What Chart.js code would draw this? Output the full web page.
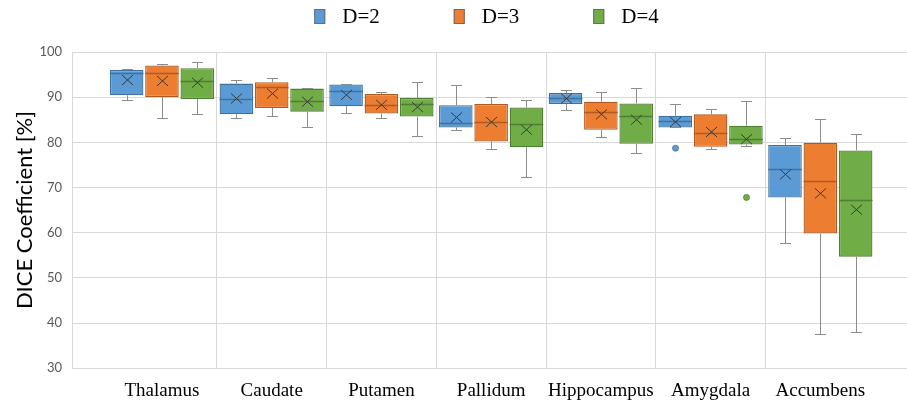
<!DOCTYPE html>
<html><head><meta charset="utf-8">
<script src="https://cdn.jsdelivr.net/npm/chart.js@4"></script>
<style>html,body{margin:0;padding:0;background:#fff}#wrap{width:907px;height:403px;position:relative}</style>
</head><body><div id="wrap"><canvas id="c" width="907" height="403"></canvas></div>
<script>
const categories = ['Thalamus', 'Caudate', 'Putamen', 'Pallidum', 'Hippocampus', 'Amygdala', 'Accumbens'];
const seriesNames = ['D=2', 'D=3', 'D=4'];
const yTicks = [30, 40, 50, 60, 70, 80, 90, 100];

// D=2
const d2Min    = [89.3, 85.4, 86.5, 82.7, 87.1, 83.3, 57.8];
const d2Q1     = [90.4, 86.2, 88.0, 83.3, 88.5, 83.3, 67.8];
const d2Median = [95.3, 89.5, 91.3, 84.2, 89.9, 84.8, 74.0];
const d2Q3     = [96.0, 93.0, 92.8, 88.2, 90.9, 85.9, 79.4];
const d2Max    = [96.2, 93.8, 92.9, 92.6, 91.6, 88.4, 80.9];
const d2Mean   = [93.8, 89.7, 90.5, 85.5, 89.7, 84.5, 72.9];
const d2Outliers = [[], [], [], [], [], [78.7], []];

// D=3
const d3Min    = [85.4, 85.9, 85.4, 78.5, 81.1, 78.6, 37.6];
const d3Q1     = [90.0, 87.6, 86.4, 80.2, 82.8, 79.0, 59.8];
const d3Median = [95.3, 92.2, 88.3, 84.5, 86.8, 82.1, 71.5];
const d3Q3     = [97.0, 93.3, 90.7, 88.5, 89.0, 86.2, 79.9];
const d3Max    = [97.4, 94.2, 91.1, 90.0, 91.1, 87.4, 85.1];
const d3Mean   = [93.6, 90.8, 88.3, 84.5, 86.2, 82.3, 68.7];
const d3Outliers = [[], [], [], [], [], [], []];

// D=4
const d4Min    = [86.2, 83.5, 81.4, 72.3, 77.7, 79.2, 38.0];
const d4Q1     = [89.6, 86.8, 85.7, 78.9, 79.7, 79.5, 54.7];
const d4Median = [93.6, 89.1, 88.4, 84.0, 85.9, 80.8, 67.3];
const d4Q3     = [96.4, 91.9, 89.8, 87.7, 88.6, 83.7, 78.2];
const d4Max    = [97.8, 92.1, 93.3, 89.3, 92.1, 89.2, 81.8];
const d4Mean   = [93.2, 89.0, 87.8, 82.8, 85.0, 80.7, 65.1];
const d4Outliers = [[], [], [], [], [], [67.8], []];

const fills   = ['#5B9BD5', '#ED7D31', '#70AD47'];
const borders = ['#41719C', '#AE5A21', '#507E32'];

const stats = [
  {min: d2Min, q1: d2Q1, med: d2Median, q3: d2Q3, max: d2Max, mean: d2Mean, out: d2Outliers},
  {min: d3Min, q1: d3Q1, med: d3Median, q3: d3Q3, max: d3Max, mean: d3Mean, out: d3Outliers},
  {min: d4Min, q1: d4Q1, med: d4Median, q3: d4Q3, max: d4Max, mean: d4Mean, out: d4Outliers}
];

const datasets = stats.map((s, k) => ({
  label: seriesNames[k],
  data: categories.map((c, i) => ({x: i, y: [s.q1[i], s.q3[i]]})),
  backgroundColor: fills[k],
  borderColor: borders[k],
  borderWidth: 1.3,
  borderSkipped: false,
  categoryPercentage: 0.966,
  barPercentage: 0.95,
  stats: s
}));

const boxExtras = {
  id: 'boxExtras',
  afterDatasetsDraw(chart) {
    const ctx = chart.ctx;
    const y = chart.scales.y;
    chart.data.datasets.forEach((ds, k) => {
      const meta = chart.getDatasetMeta(k);
      const s = ds.stats;
      meta.data.forEach((el, i) => {
        const p = el.getProps(['x', 'width'], true);
        const cx = Math.round(p.x) + 0.5;
        const hw = p.width / 2;
        ctx.save();
        ctx.strokeStyle = '#8c8c8c';
        ctx.lineWidth = 1;
        const yq3 = y.getPixelForValue(s.q3[i]);
        const yq1 = y.getPixelForValue(s.q1[i]);
        const ymax = Math.round(y.getPixelForValue(s.max[i])) + 0.5;
        const ymin = Math.round(y.getPixelForValue(s.min[i])) + 0.5;
        ctx.beginPath();
        if (ymax < yq3 - 0.5) { ctx.moveTo(cx, yq3); ctx.lineTo(cx, ymax); }
        ctx.moveTo(cx - 5.5, ymax); ctx.lineTo(cx + 5.5, ymax);
        if (ymin > yq1 + 0.5) { ctx.moveTo(cx, yq1); ctx.lineTo(cx, ymin); }
        ctx.moveTo(cx - 5.5, ymin); ctx.lineTo(cx + 5.5, ymin);
        ctx.stroke();
        const ym = Math.round(y.getPixelForValue(s.med[i])) + 0.5;
        ctx.strokeStyle = borders[k];
        ctx.lineWidth = 1.5;
        ctx.beginPath();
        ctx.moveTo(p.x - hw, ym); ctx.lineTo(p.x + hw, ym);
        ctx.stroke();
        const yx = y.getPixelForValue(s.mean[i]);
        ctx.strokeStyle = '#3a3a3a';
        ctx.lineWidth = 1;
        ctx.beginPath();
        ctx.moveTo(cx - 5.5, yx - 5); ctx.lineTo(cx + 5.5, yx + 5);
        ctx.moveTo(cx + 5.5, yx - 5); ctx.lineTo(cx - 5.5, yx + 5);
        ctx.stroke();
        (s.out[i] || []).forEach(v => {
          const yo = y.getPixelForValue(v);
          ctx.beginPath();
          ctx.arc(cx, yo, 3, 0, Math.PI * 2);
          ctx.fillStyle = fills[k];
          ctx.fill();
          ctx.strokeStyle = borders[k];
          ctx.lineWidth = 0.8;
          ctx.stroke();
        });
        ctx.restore();
      });
    });
  }
};

const topLegend = {
  id: 'topLegend',
  afterDraw(chart) {
    const ctx = chart.ctx;
    ctx.save();
    ctx.font = '21px "Liberation Serif", "Times New Roman", serif';
    const boxW = 11, boxH = 15, gapText = 17, gapItem = 74;
    const items = chart.data.datasets.map((ds, k) => ({label: ds.label, w: ctx.measureText(ds.label).width, k}));
    let total = 0;
    items.forEach((it, j) => { total += boxW + gapText + it.w + (j < items.length - 1 ? gapItem : 0); });
    const ca = chart.chartArea;
    let x = (ca.left + ca.right) / 2 - total / 2 - 3;
    const cy = 16.5;
    items.forEach(it => {
      ctx.fillStyle = fills[it.k];
      ctx.fillRect(x, cy - boxH / 2, boxW, boxH);
      ctx.strokeStyle = '#6b6b6b';
      ctx.lineWidth = 1;
      ctx.strokeRect(x + 0.5, cy - boxH / 2 + 0.5, boxW - 1, boxH - 1);
      ctx.fillStyle = '#000';
      ctx.textBaseline = 'middle';
      ctx.textAlign = 'left';
      ctx.fillText(it.label, x + boxW + gapText, cy + 1);
      x += boxW + gapText + it.w + gapItem;
    });
    ctx.restore();
  }
};

new Chart(document.getElementById('c'), {
  type: 'bar',
  data: {datasets},
  options: {
    responsive: false,
    animation: false,
    devicePixelRatio: 1,
    layout: {padding: {top: 52, right: 0, bottom: -10, left: 0}},
    plugins: {legend: {display: false}, tooltip: {enabled: false}},
    scales: {
      x: {
        type: 'linear',
        min: -0.82,
        max: 6.79,
        offset: false,
        afterBuildTicks(scale) { scale.ticks = categories.map((c, i) => ({value: i})); },
        grid: {
          offset: true,
          drawTicks: false,
          color: (c) => (c.type === 'tick' && c.index >= 1 && c.index <= categories.length - 1) ? '#d9d9d9' : 'rgba(0,0,0,0)',
          lineWidth: 1
        },
        border: {display: false},
        ticks: {
          autoSkip: false,
          maxRotation: 0,
          padding: 11,
          color: '#000',
          font: {family: '"Liberation Serif", "Times New Roman", serif', size: 19},
          callback: (v) => categories[v]
        }
      },
      y: {
        min: 30,
        max: 100,
        afterBuildTicks(scale) { scale.ticks = yTicks.map(v => ({value: v})); },
        afterFit(scale) { scale.width = 72; },
        grid: {color: '#d9d9d9', lineWidth: 1, drawTicks: false},
        border: {display: true, color: '#d9d9d9'},
        ticks: {
          padding: 10,
          color: '#595959',
          font: {family: 'Lato, "Liberation Sans", sans-serif', size: 13}
        },
        title: {
          display: true,
          text: 'DICE Coefficient [%]',
          color: '#000',
          font: {family: 'Lato, "Liberation Sans", sans-serif', size: 22},
          padding: {top: 12, bottom: 0}
        }
      }
    }
  },
  plugins: [boxExtras, topLegend]
});
</script>
</body></html>
